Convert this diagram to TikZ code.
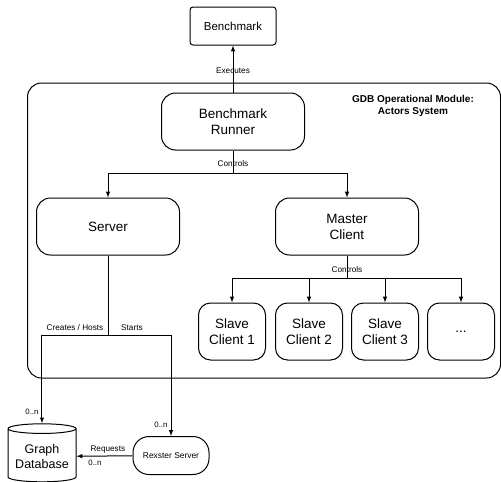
\documentclass[tikz,border=0pt]{standalone}
\usepackage{fontspec}
\setmainfont{Liberation Sans}
\usetikzlibrary{shapes.geometric, arrows}
\tikzstyle{plainbox} = [rectangle, rounded corners=3pt, minimum width=86pt,
  minimum height=38pt, text centered, draw=black,
  font=\fontsize{11.5}{14}\selectfont]
\tikzstyle{actor} = [rectangle, rounded corners=14pt, minimum width=143pt,
  minimum height=57pt, align=center, draw=black,
  font=\fontsize{13.5}{16}\selectfont]
\tikzstyle{slave} = [actor, minimum width=67pt, rounded corners=12pt]
\tikzstyle{db} = [cylinder, shape border rotate=90, aspect=0.16,
  minimum width=68pt, minimum height=58pt, align=center, draw=black,
  font=\fontsize{12.5}{15}\selectfont]
\tikzstyle{pill} = [rectangle, rounded corners=16pt, minimum width=76pt,
  minimum height=38pt, text centered, draw=black,
  font=\fontsize{8.4}{10}\selectfont]
\tikzstyle{lbl} = [font=\fontsize{8.2}{10}\selectfont, inner sep=2pt]
\tikzstyle{mult} = [font=\fontsize{7.8}{9}\selectfont, inner sep=3pt]
\tikzstyle{arrow} = [->,>=latex]

\begin{document}
\begin{tikzpicture}[x=1pt, y=-1pt, node distance=105pt, line width=1pt]
\useasboundingbox (0,0) rectangle (501,482);

%% container
\draw [rounded corners=14pt] (27.5,83) rectangle (500.5,378);

%% nodes
\node (bench) [plainbox] at (233,26) {Benchmark};
\node (runner) [actor, below of=bench, yshift=9.5pt] {Benchmark\\Runner};
\node (title) [right of=runner, xshift=75pt, yshift=16pt, align=center,
  font=\fontsize{10}{12}\selectfont\bfseries]
  {GDB Operational Module:\\Actors System};
\node (server) [actor, below of=runner, xshift=-125pt] {Server};
\node (master) [actor, below of=runner, xshift=114pt] {Master\\Client};
\node (slave1) [slave, below of=master, xshift=-115pt] {Slave\\Client 1};
\node (slave2) [slave, below of=master, xshift=-38pt] {Slave\\Client 2};
\node (slave3) [slave, below of=master, xshift=38pt] {Slave\\Client 3};
\node (more) [slave, below of=master, xshift=114pt] {...};
\node (graphDB) [db, below of=server, xshift=-66pt, yshift=-125pt]
  {Graph\\Database};
\node (rexster) [pill, right of=graphDB, xshift=24pt, yshift=1pt]
  {Rexster Server};

\coordinate [below of=runner, node distance=51.5pt] (ctrl1);
\coordinate [below of=master, node distance=51.5pt] (ctrl2);
\coordinate [below of=server, node distance=108.5pt] (split);

%% paths
\draw [arrow] (runner) -- node [lbl, yshift=-2pt] {Executes} (bench);
\draw (runner) -- node [lbl, yshift=-2pt] {Controls} (ctrl1);
\draw [arrow] (ctrl1) -| (server);
\draw [arrow] (ctrl1) -| (master);
\draw (master) -- node [lbl, yshift=-3pt] {Controls} (ctrl2);
\draw [arrow] (ctrl2) -| (slave1);
\draw [arrow] (ctrl2) -| (slave2);
\draw [arrow] (ctrl2) -| (slave3);
\draw [arrow] (ctrl2) -| (more);
\draw (server) -- (split);
\draw [arrow] (split) -| node [lbl, above, pos=0.25, yshift=2pt] {Creates / Hosts}
  node [mult, left, pos=0.935] {0..n} (graphDB);
\draw [arrow] (split) -| node [lbl, above, pos=0.19, yshift=2pt] {Starts}
  node [mult, left, pos=0.945] {0..n} (rexster);
\draw [arrow] (rexster) -- node [lbl, above, pos=0.44] {Requests}
  node [mult, below, pos=0.67] {0..n} (graphDB);

\end{tikzpicture}
\end{document}
